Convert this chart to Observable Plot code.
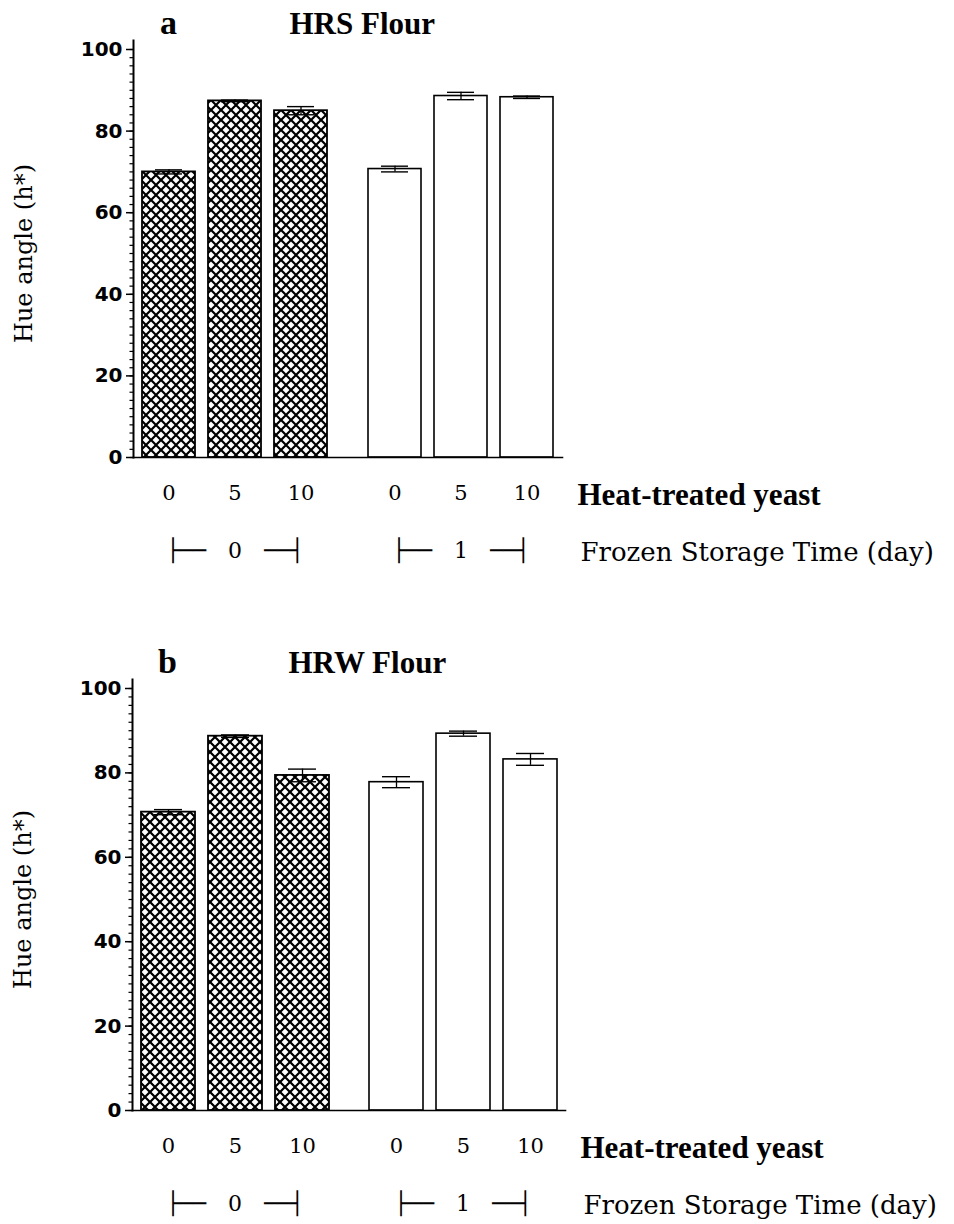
<!DOCTYPE html>
<html><head><meta charset="utf-8">
<script src="https://cdn.jsdelivr.net/npm/d3@7"></script>
<script src="https://cdn.jsdelivr.net/npm/@observablehq/plot@0.6"></script>
<style>body{margin:0;background:#fff;} #chart{width:954px;} svg{display:block;}</style>
</head><body><div id="chart"></div>
<script>
const yeastLevels = ["0", "5", "10"];
const storageDays = ["0", "1"];
const hrsHue = [70.0, 87.4, 85.0, 70.7, 88.6, 88.3];
const hrsErr = [0.5, 0.2, 1.0, 0.7, 0.9, 0.3];
const hrwHue = [70.7, 88.7, 79.4, 77.8, 89.3, 83.2];
const hrwErr = [0.6, 0.3, 1.5, 1.3, 0.6, 1.4];
const yTicks = [0, 20, 40, 60, 80, 100];
const yMinorTicks = d3.range(0, 101, 2);
const panelLetters = ["a", "b"];
const panelTitles = ["HRS Flour", "HRW Flour"];
const yLabel = "Hue angle (h*)";
const xLabel = "Heat-treated yeast";
const groupLabel = "Frozen Storage Time (day)";

function rows(hue, err) {
  return hue.map((h, i) => ({storage: storageDays[Math.floor(i / 3)], yeast: yeastLevels[i % 3], hue: h, err: err[i]}));
}

function addHatch(svg, pid) {
  const ns = "http://www.w3.org/2000/svg";
  const defs = document.createElementNS(ns, "defs");
  const pat = document.createElementNS(ns, "pattern");
  pat.setAttribute("id", pid);
  pat.setAttribute("patternUnits", "userSpaceOnUse");
  pat.setAttribute("width", "10");
  pat.setAttribute("height", "10");
  const bg = document.createElementNS(ns, "rect");
  bg.setAttribute("width", "10"); bg.setAttribute("height", "10"); bg.setAttribute("fill", "white");
  const p = document.createElementNS(ns, "path");
  p.setAttribute("d", "M0,0L10,10M10,0L0,10");
  p.setAttribute("stroke", "black");
  p.setAttribute("stroke-width", "2.2");
  p.setAttribute("stroke-linecap", "square");
  pat.appendChild(bg); pat.appendChild(p);
  defs.appendChild(pat);
  svg.insertBefore(defs, svg.firstChild);
}

function panel(k, hue, err, m) {
  const data = rows(hue, err);
  const pid = "hatch" + k;
  const serif = "DejaVu Serif";
  const svg = Plot.plot({
    width: 954,
    height: m.height,
    marginTop: m.top,
    marginBottom: m.bottom,
    marginLeft: 132,
    marginRight: m.right,
    style: {background: "white", color: "black", overflow: "visible"},
    fx: {domain: storageDays, padding: 0.1},
    x: {domain: yeastLevels, paddingInner: 0.2, paddingOuter: 0.12},
    y: {domain: [0, 100]},
    marks: [
      Plot.barY(data.filter(d => d.storage === "0"), {fx: "storage", x: "yeast", y: "hue", fill: `url(#${pid})`, stroke: "black", strokeWidth: 1.8}),
      Plot.barY(data.filter(d => d.storage === "1"), {fx: "storage", x: "yeast", y: "hue", fill: "white", stroke: "black", strokeWidth: 1.6}),
      Plot.ruleX(data, {fx: "storage", x: "yeast", y1: d => d.hue - d.err, y2: d => d.hue + d.err, strokeWidth: 1.3}),
      Plot.tickY(data, {fx: "storage", x: "yeast", y: d => d.hue + d.err, insetLeft: 13, insetRight: 13, strokeWidth: 1.4}),
      Plot.tickY(data, {fx: "storage", x: "yeast", y: d => d.hue - d.err, insetLeft: 13, insetRight: 13, strokeWidth: 1.4}),
      Plot.frame({anchor: "bottom", facet: "super", strokeWidth: 1.6}),
      Plot.frame({anchor: "left", facet: "super", strokeWidth: 2, insetTop: -9}),
      Plot.axisY(yTicks, {anchor: "left", tickSize: 7, tickPadding: 4, strokeWidth: 1.5, fontSize: 20, fontWeight: "bold", fontFamily: "DejaVu Sans", label: null}),
      Plot.axisY(yMinorTicks, {anchor: "left", tickSize: 3.5, strokeWidth: 1.2, tickFormat: () => "", label: null}),
      Plot.axisX({anchor: "bottom", tickSize: 0, tickPadding: m.tickPad, fontSize: 21, fontFamily: serif, label: null}),
      Plot.axisFx({anchor: "bottom", tickSize: 0, tickPadding: m.groupPad, fontSize: 22, fontFamily: serif, label: null,
        tickFormat: d => `\u251C\u2500\u2500\u2002\u2002${d}\u2002\u2002\u2500\u2500\u2524`}),
      Plot.text([xLabel], {fx: () => "1", frameAnchor: "bottom-right", dx: 15, dy: m.tickPad + 10, textAnchor: "start", lineAnchor: "middle", fontSize: 31, fontWeight: "bold", fontFamily: "Liberation Serif"}),
      Plot.text([groupLabel], {fx: () => "1", frameAnchor: "bottom-right", dx: 18, dy: m.groupPad + 10, textAnchor: "start", lineAnchor: "middle", fontSize: 26, fontFamily: serif}),
      Plot.text([panelLetters[k]], {fx: () => "0", frameAnchor: "top-left", dx: 35, dy: -16, textAnchor: "middle", lineAnchor: "bottom", fontSize: 34, fontWeight: "bold", fontFamily: "Liberation Serif"}),
      Plot.text([panelTitles[k]], {fx: () => "0", frameAnchor: "top-left", dx: 156, dy: -16, textAnchor: "start", lineAnchor: "bottom", fontSize: 31, fontWeight: "bold", fontFamily: "Liberation Serif"}),
      Plot.text([yLabel], {fx: () => "0", frameAnchor: "left", rotate: -90, dx: -109, textAnchor: "middle", lineAnchor: "middle", fontSize: 24, fontFamily: serif})
    ]
  });
  addHatch(svg, pid);
  return svg;
}

const chart = document.getElementById("chart");
chart.appendChild(panel(0, hrsHue, hrsErr, {height: 612, top: 49, bottom: 155, right: 391, tickPad: 28, groupPad: 85}));
chart.appendChild(panel(1, hrwHue, hrwErr, {height: 612, top: 76, bottom: 114, right: 388, tickPad: 28, groupPad: 85}));
</script>
</body></html>
